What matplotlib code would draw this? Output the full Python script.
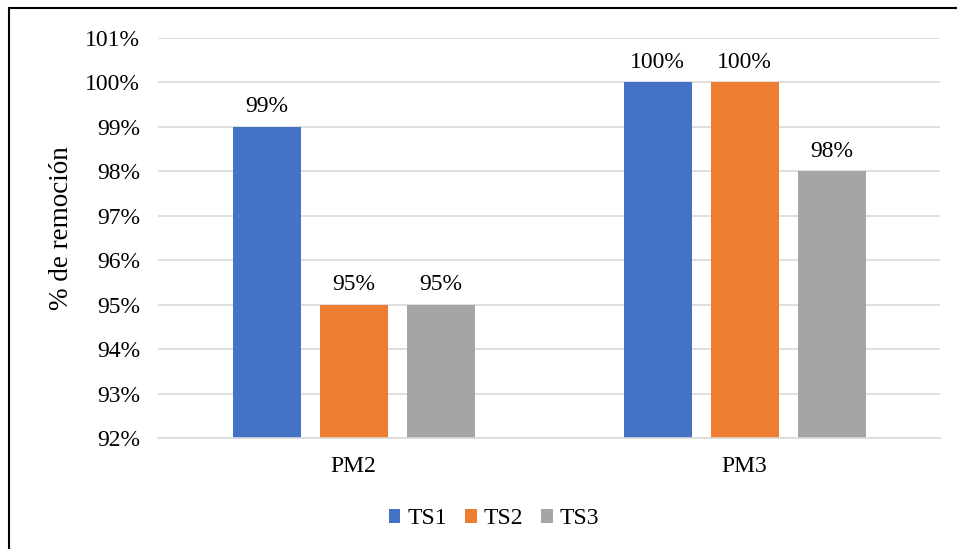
import matplotlib.pyplot as plt
from matplotlib.lines import Line2D
import numpy as np

# Data (% de remoción)
categories = ['PM2', 'PM3']
ts1 = [99, 100]
ts2 = [95, 100]
ts3 = [95, 98]
series = [('TS1', ts1, '#4472c4'), ('TS2', ts2, '#ed7d31'), ('TS3', ts3, '#a5a5a5')]
yticks = list(range(92, 102))

plt.rcParams['font.family'] = ['Liberation Serif', 'DejaVu Serif']

fig = plt.figure(figsize=(9.57, 5.49), dpi=100)
W, H = 957, 549
ax = fig.add_axes([158 / W, 1 - 438 / H, (940 - 158) / W, (438 - 38) / H])

x = np.arange(len(categories))
width = 68 / 391
step = 87 / 391
for i, (label, vals, color) in enumerate(series):
    pos = x + (i - 1) * step
    bars = ax.bar(pos, np.array(vals) - 92, width, bottom=92, color=color, label=label, zorder=2)
    for b, v in zip(bars, vals):
        ax.text(b.get_x() + b.get_width() / 2, v + 0.22, f'{v}%', ha='center', va='bottom',
                fontsize=17, color='#000000')

ax.set_xlim(-0.5, 1.5)
ax.set_ylim(92, 101)
ax.set_yticks(yticks)
ax.set_yticklabels([f'{t}%' for t in yticks], fontsize=17)
ax.set_xticks(x)
ax.set_xticklabels(categories, fontsize=17)
ax.tick_params(axis='both', length=0)
ax.tick_params(axis='y', pad=13)
ax.tick_params(axis='x', pad=13)
ax.grid(axis='y', color='#d9d9d9', linewidth=1.2, zorder=0)
for s in ['top', 'right', 'left']:
    ax.spines[s].set_visible(False)
ax.spines['bottom'].set_color('#d9d9d9')
ax.spines['bottom'].set_linewidth(1.2)
ax.set_ylabel('% de remoción', fontsize=19.5)
ax.yaxis.set_label_coords((74 - 158) / 782, 0.525)

fig.legend(loc='center', bbox_to_anchor=(494 / W, 1 - 519 / H), ncol=3, frameon=False, fontsize=17,
           handlelength=0.5, handleheight=0.5, handletextpad=0.3, columnspacing=0.75)

# outer frame (top and left edges visible in the crop)
fig.add_artist(Line2D([9 / W, 9 / W], [0, 1 - 8 / H], color='black', linewidth=1.5))
fig.add_artist(Line2D([9 / W, 1], [1 - 8 / H, 1 - 8 / H], color='black', linewidth=1.5))

fig.savefig('out.png', dpi=100)
